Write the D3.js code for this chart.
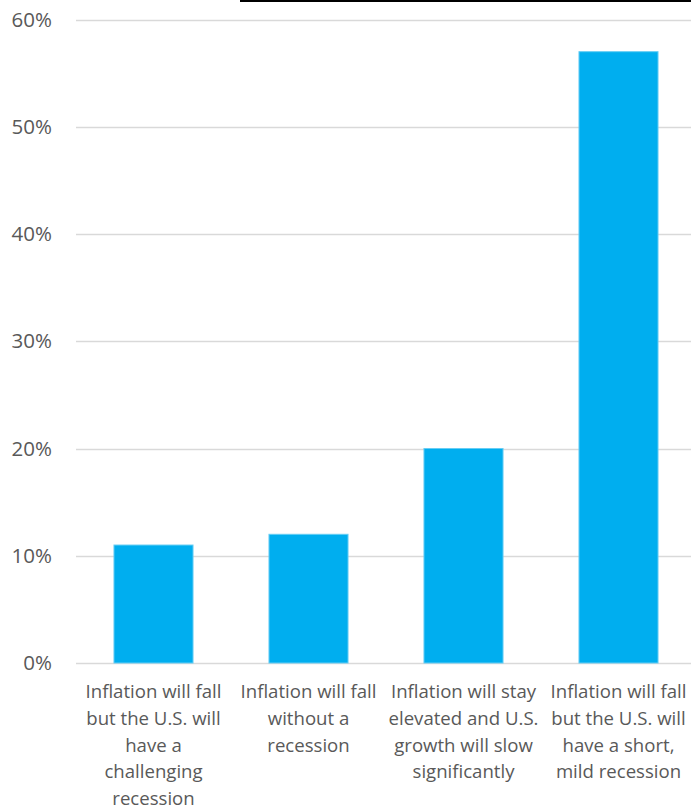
<!DOCTYPE html>
<html>
<head>
<meta charset="utf-8">
<script src="https://cdn.jsdelivr.net/npm/d3@7"></script>
<style>
  body { margin: 0; background: #fff; }
  svg text { font-family: "Segoe UI", "Open Sans", "Noto Sans", sans-serif; fill: #595959; }
</style>
</head>
<body>
<script>
// survey answers, share of respondents
var categories = [
  "Inflation will fall\nbut the U.S. will\nhave a\nchallenging\nrecession",
  "Inflation will fall\nwithout a\nrecession",
  "Inflation will stay\nelevated and U.S.\ngrowth will slow\nsignificantly",
  "Inflation will fall\nbut the U.S. will\nhave a short,\nmild recession"
];
var values = [0.11, 0.12, 0.20, 0.57];
var yTicks = [0, 0.1, 0.2, 0.3, 0.4, 0.5, 0.6];

var W = 691, H = 806;
var svg = d3.select("body").append("svg").attr("width", W).attr("height", H);

var x = d3.scaleBand().domain(categories).range([76, 696])
  .paddingInner(0.49).paddingOuter(0.245);
var y = d3.scaleLinear().domain([0, 0.6]).range([663, 19.5]);

// odd black rule at the very top
svg.append("line").attr("x1", 240).attr("x2", W).attr("y1", 1).attr("y2", 1)
  .attr("stroke", "#000").attr("stroke-width", 2);

// gridlines
svg.selectAll(".grid").data(yTicks).enter().append("line")
  .attr("class", "grid")
  .attr("x1", 76).attr("x2", W)
  .attr("y1", function(d) { return Math.round(y(d)) + 0.5; })
  .attr("y2", function(d) { return Math.round(y(d)) + 0.5; })
  .attr("stroke", "#d9d9d9").attr("stroke-width", 1.5);

// y labels
svg.selectAll(".ylab").data(yTicks).enter().append("text")
  .attr("class", "ylab")
  .attr("x", 52).attr("y", function(d) { return y(d); })
  .attr("dy", "0.35em").attr("text-anchor", "end")
  .style("font-size", "20.5px")
  .text(d3.format(".0%"));

// bars
svg.selectAll(".bar").data(values).enter().append("rect")
  .attr("class", "bar")
  .attr("x", function(d, i) { return x(categories[i]); })
  .attr("width", x.bandwidth())
  .attr("y", function(d) { return y(d); })
  .attr("height", function(d) { return y(0) - y(d); })
  .attr("fill", "#00aeef").attr("stroke", "#66cdf4").attr("stroke-width", 1);

// x labels, wrapped as in the original
var lab = svg.selectAll(".xlab").data(categories).enter().append("text")
  .attr("class", "xlab")
  .attr("text-anchor", "middle")
  .style("font-size", "18.6px")
  .attr("transform", function(d) { return "translate(" + (x(d) + x.bandwidth() / 2) + ",698)"; });
lab.selectAll("tspan").data(function(d) { return d.split("\n"); }).enter().append("tspan")
  .attr("x", 0).attr("y", function(d, i) { return i * 26.8; })
  .text(function(d) { return d; });
</script>
</body>
</html>
